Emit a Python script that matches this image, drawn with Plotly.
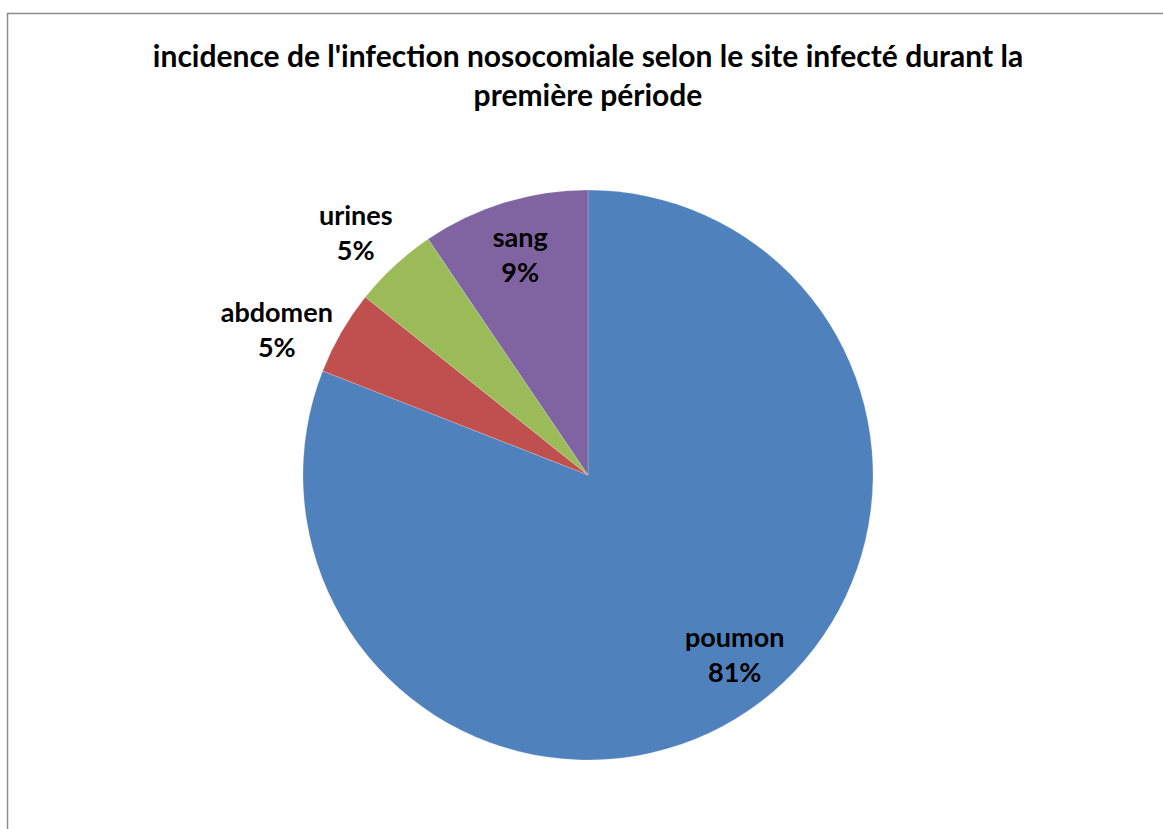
import plotly.graph_objects as go

labels = ["poumon", "abdomen", "urines", "sang"]
values = [80.95, 4.78, 4.79, 9.48]
colors = ["#4F81BD", "#C0504D", "#9BBB59", "#8064A2"]
title_text = "incidence de l'infection nosocomiale selon le site infecté durant la<br>première période"

W, H = 1163, 829
cx, cy, r = 588, 475, 285


def dom(rad):
    return dict(x=[(cx - rad) / W, (cx + rad) / W], y=[1 - (cy + rad) / H, 1 - (cy - rad) / H])


lab_font = dict(family="Lato", size=27, color="black", weight="bold")
clear = ["rgba(0,0,0,0)"] * len(labels)

# main pie: the visible slices
fig = go.Figure(go.Pie(
    labels=labels,
    values=values,
    sort=False,
    direction="clockwise",
    rotation=0,
    marker=dict(colors=colors, line=dict(color="rgba(255,255,255,0.4)", width=0.5)),
    textinfo="none",
    showlegend=False,
    domain=dom(r),
))

# transparent overlays carrying the data labels, tuned to sit where the original puts them
label_specs = [
    # (label, textposition, hole, rotation, radius)
    ("sang", "inside", 0.62, 0, r),
    ("poumon", "inside", 0.56, -5, r + 12),
    ("urines", "outside", 0, 4, r),
    ("abdomen", "outside", 0, 0, r - 10),
]
for which, pos, hole, rot, rad in label_specs:
    fig.add_trace(go.Pie(
        labels=labels,
        values=values,
        sort=False,
        direction="clockwise",
        rotation=rot,
        hole=hole,
        marker=dict(colors=clear, line=dict(width=0)),
        textposition=[pos if l == which else "none" for l in labels],
        texttemplate="%{label}<br>%{percent:.0%}",
        insidetextorientation="horizontal",
        textfont=lab_font,
        hoverinfo="skip",
        showlegend=False,
        domain=dom(rad),
    ))

fig.update_layout(
    width=W, height=H,
    margin=dict(l=0, r=0, t=0, b=0),
    paper_bgcolor="white",
    font=dict(family="Lato", color="black"),
    title=dict(text=title_text, x=cx / W, xanchor="center", y=1 - 67 / H, yanchor="top",
               font=dict(family="Lato", size=30, color="black", weight="bold")),
    shapes=[dict(type="rect", xref="paper", yref="paper",
                 x0=7.5 / W, x1=1.02, y0=-0.02, y1=1 - 13.5 / H,
                 line=dict(color="#8C8C8C", width=1.5), fillcolor="rgba(0,0,0,0)")],
)

fig.write_html("out.html")
